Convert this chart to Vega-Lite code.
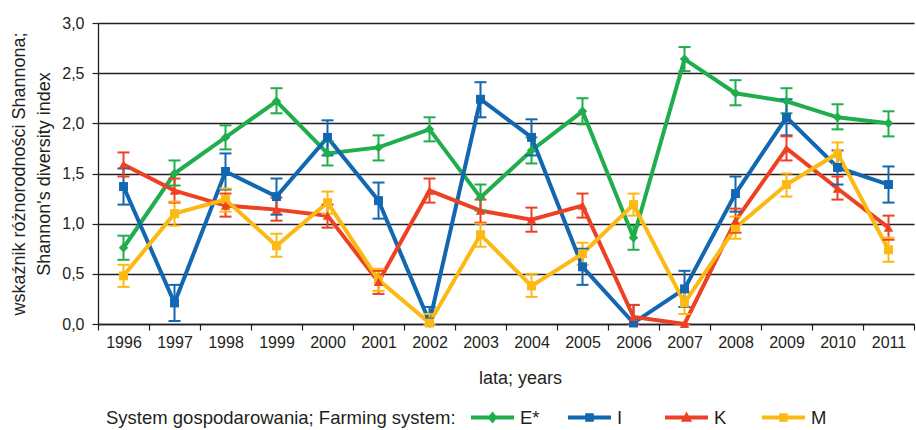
{
  "$schema": "https://vega.github.io/schema/vega-lite/v6.json",
  "width": 816,
  "height": 301,
  "autosize": {"type": "none"},
  "padding": {"left": 98, "top": 23, "right": 2, "bottom": 106},
  "background": "white",
  "config": {
    "font": "Liberation Sans",
    "view": {"stroke": null},
    "axis": {
      "labelFont": "Liberation Sans",
      "titleFont": "Liberation Sans",
      "labelFontSize": 16,
      "titleFontSize": 18,
      "titleFontWeight": "normal",
      "labelColor": "#231f20",
      "titleColor": "#231f20",
      "domainColor": "#231f20",
      "tickColor": "#231f20",
      "domainWidth": 1.3,
      "tickWidth": 1.2
    },
    "legend": {
      "labelFont": "Liberation Sans",
      "titleFont": "Liberation Sans"
    }
  },
  "data": {
    "values": [
      {"year": "1996", "system": "E*", "value": 0.76, "lo": 0.64, "hi": 0.88},
      {"year": "1997", "system": "E*", "value": 1.50, "lo": 1.38, "hi": 1.63},
      {"year": "1998", "system": "E*", "value": 1.86, "lo": 1.74, "hi": 1.98},
      {"year": "1999", "system": "E*", "value": 2.22, "lo": 2.10, "hi": 2.35},
      {"year": "2000", "system": "E*", "value": 1.70, "lo": 1.58, "hi": 1.82},
      {"year": "2001", "system": "E*", "value": 1.76, "lo": 1.63, "hi": 1.88},
      {"year": "2002", "system": "E*", "value": 1.94, "lo": 1.82, "hi": 2.06},
      {"year": "2003", "system": "E*", "value": 1.26, "lo": 1.13, "hi": 1.39},
      {"year": "2004", "system": "E*", "value": 1.73, "lo": 1.60, "hi": 1.86},
      {"year": "2005", "system": "E*", "value": 2.12, "lo": 1.99, "hi": 2.25},
      {"year": "2006", "system": "E*", "value": 0.86, "lo": 0.74, "hi": 0.98},
      {"year": "2007", "system": "E*", "value": 2.64, "lo": 2.52, "hi": 2.76},
      {"year": "2008", "system": "E*", "value": 2.30, "lo": 2.18, "hi": 2.43},
      {"year": "2009", "system": "E*", "value": 2.22, "lo": 2.10, "hi": 2.35},
      {"year": "2010", "system": "E*", "value": 2.06, "lo": 1.94, "hi": 2.19},
      {"year": "2011", "system": "E*", "value": 2.00, "lo": 1.87, "hi": 2.12},

      {"year": "1996", "system": "I", "value": 1.37, "lo": 1.19, "hi": 1.55},
      {"year": "1997", "system": "I", "value": 0.21, "lo": 0.03, "hi": 0.39},
      {"year": "1998", "system": "I", "value": 1.52, "lo": 1.34, "hi": 1.70},
      {"year": "1999", "system": "I", "value": 1.27, "lo": 1.09, "hi": 1.45},
      {"year": "2000", "system": "I", "value": 1.86, "lo": 1.68, "hi": 2.03},
      {"year": "2001", "system": "I", "value": 1.23, "lo": 1.05, "hi": 1.41},
      {"year": "2002", "system": "I", "value": 0.02, "lo": 0.00, "hi": 0.17},
      {"year": "2003", "system": "I", "value": 2.24, "lo": 2.06, "hi": 2.41},
      {"year": "2004", "system": "I", "value": 1.86, "lo": 1.68, "hi": 2.04},
      {"year": "2005", "system": "I", "value": 0.57, "lo": 0.39, "hi": 0.75},
      {"year": "2006", "system": "I", "value": 0.01, "lo": 0.00, "hi": 0.19},
      {"year": "2007", "system": "I", "value": 0.35, "lo": 0.17, "hi": 0.53},
      {"year": "2008", "system": "I", "value": 1.30, "lo": 1.12, "hi": 1.47},
      {"year": "2009", "system": "I", "value": 2.06, "lo": 1.88, "hi": 2.24},
      {"year": "2010", "system": "I", "value": 1.56, "lo": 1.39, "hi": 1.73},
      {"year": "2011", "system": "I", "value": 1.39, "lo": 1.21, "hi": 1.57},

      {"year": "1996", "system": "K", "value": 1.59, "lo": 1.47, "hi": 1.71},
      {"year": "1997", "system": "K", "value": 1.33, "lo": 1.21, "hi": 1.45},
      {"year": "1998", "system": "K", "value": 1.18, "lo": 1.07, "hi": 1.30},
      {"year": "1999", "system": "K", "value": 1.14, "lo": 1.03, "hi": 1.26},
      {"year": "2000", "system": "K", "value": 1.08, "lo": 0.96, "hi": 1.19},
      {"year": "2001", "system": "K", "value": 0.42, "lo": 0.30, "hi": 0.53},
      {"year": "2002", "system": "K", "value": 1.33, "lo": 1.21, "hi": 1.45},
      {"year": "2003", "system": "K", "value": 1.13, "lo": 1.01, "hi": 1.24},
      {"year": "2004", "system": "K", "value": 1.04, "lo": 0.92, "hi": 1.16},
      {"year": "2005", "system": "K", "value": 1.18, "lo": 1.06, "hi": 1.30},
      {"year": "2006", "system": "K", "value": 0.07, "lo": 0.00, "hi": 0.19},
      {"year": "2007", "system": "K", "value": 0.00, "lo": 0.00, "hi": 0.00},
      {"year": "2008", "system": "K", "value": 1.03, "lo": 0.91, "hi": 1.15},
      {"year": "2009", "system": "K", "value": 1.75, "lo": 1.63, "hi": 1.87},
      {"year": "2010", "system": "K", "value": 1.35, "lo": 1.24, "hi": 1.47},
      {"year": "2011", "system": "K", "value": 0.96, "lo": 0.84, "hi": 1.08},

      {"year": "1996", "system": "M", "value": 0.48, "lo": 0.37, "hi": 0.59},
      {"year": "1997", "system": "M", "value": 1.10, "lo": 0.98, "hi": 1.22},
      {"year": "1998", "system": "M", "value": 1.24, "lo": 1.12, "hi": 1.35},
      {"year": "1999", "system": "M", "value": 0.78, "lo": 0.67, "hi": 0.90},
      {"year": "2000", "system": "M", "value": 1.21, "lo": 1.10, "hi": 1.32},
      {"year": "2001", "system": "M", "value": 0.44, "lo": 0.33, "hi": 0.55},
      {"year": "2002", "system": "M", "value": 0.01, "lo": 0.00, "hi": 0.10},
      {"year": "2003", "system": "M", "value": 0.89, "lo": 0.77, "hi": 1.00},
      {"year": "2004", "system": "M", "value": 0.38, "lo": 0.27, "hi": 0.50},
      {"year": "2005", "system": "M", "value": 0.70, "lo": 0.59, "hi": 0.81},
      {"year": "2006", "system": "M", "value": 1.19, "lo": 1.08, "hi": 1.30},
      {"year": "2007", "system": "M", "value": 0.21, "lo": 0.10, "hi": 0.32},
      {"year": "2008", "system": "M", "value": 0.96, "lo": 0.85, "hi": 1.07},
      {"year": "2009", "system": "M", "value": 1.39, "lo": 1.27, "hi": 1.50},
      {"year": "2010", "system": "M", "value": 1.70, "lo": 1.59, "hi": 1.81},
      {"year": "2011", "system": "M", "value": 0.74, "lo": 0.62, "hi": 0.86}
    ]
  },
  "encoding": {
    "x": {
      "field": "year",
      "type": "ordinal",
      "bandPosition": 0.5,
      "scale": {"type": "band", "paddingInner": 0, "paddingOuter": 0},
      "axis": {
        "title": "lata; years",
        "titleX": 422,
        "titlePadding": 19,
        "labelAngle": 0,
        "labelPadding": 4,
        "tickBand": "extent",
        "tickSize": 6,
        "grid": false
      }
    },
    "color": {
      "field": "system",
      "type": "nominal",
      "scale": {
        "domain": ["E*", "I", "K", "M"],
        "range": ["#1fae4b", "#1167b1", "#ee4124", "#fdb913"]
      },
      "legend": {
        "title": "System gospodarowania; Farming system:",
        "orient": "bottom",
        "direction": "horizontal",
        "offset": 1,
        "padding": 8,
        "titleOrient": "left",
        "titleAnchor": "middle",
        "titleBaseline": "middle",
        "titleLimit": 600,
        "titleFontSize": 18.5,
        "titleFontWeight": "normal",
        "titleColor": "#231f20",
        "titlePadding": 15,
        "labelFontSize": 18.5,
        "labelColor": "#231f20",
        "labelOffset": 6,
        "gridAlign": "all",
        "columnPadding": 28,
        "symbolSize": 1849,
        "symbolStrokeWidth": 0,
        "symbolType": "M-1,-0.093L1,-0.093L1,0.093L-1,0.093Z",
        "encode": {
          "title": {
            "update": {"dy": {"value": 6}}
          },
          "symbols": {
            "update": {
              "shape": {
                "signal": "datum.value === 'E*' ? 'M-1,-0.093L1,-0.093L1,0.093L-1,0.093Z M0,-0.28L0.23,0L0,0.28L-0.23,0Z' : datum.value === 'K' ? 'M-1,-0.093L1,-0.093L1,0.093L-1,0.093Z M0,-0.28L0.26,0.2L-0.26,0.2Z' : 'M-1,-0.093L1,-0.093L1,0.093L-1,0.093Z M-0.2,-0.2L0.2,-0.2L0.2,0.2L-0.2,0.2Z'"
              },
              "fill": {"scale": "color", "field": "value"},
              "strokeWidth": {"value": 0},
              "opacity": {"value": 1}
            }
          }
        }
      }
    }
  },
  "layer": [
    {
      "mark": {"type": "line", "strokeWidth": 4, "strokeJoin": "miter"},
      "encoding": {
        "y": {
          "field": "value",
          "type": "quantitative",
          "scale": {"domain": [0, 3], "nice": false},
          "axis": {
            "values": [0, 0.5, 1, 1.5, 2, 2.5, 3],
            "format": ".1f",
            "labelExpr": "replace(datum.label, '.', ',')",
            "grid": true,
            "gridColor": "#231f20",
            "gridWidth": 1.3,
            "tickSize": 6,
            "labelPadding": 8,
            "title": ["wskaźnik różnorodności Shannona;", "Shannon's diversity index"],
            "titleLineHeight": 25,
            "titlePadding": 8
          }
        }
      }
    },
    {
      "mark": {"type": "rule", "strokeWidth": 2},
      "encoding": {
        "y": {"field": "lo", "type": "quantitative"},
        "y2": {"field": "hi"}
      }
    },
    {
      "mark": {"type": "tick", "orient": "horizontal", "size": 12, "thickness": 2, "opacity": 1},
      "encoding": {
        "y": {"field": "lo", "type": "quantitative"}
      }
    },
    {
      "mark": {"type": "tick", "orient": "horizontal", "size": 12, "thickness": 2, "opacity": 1},
      "encoding": {
        "y": {"field": "hi", "type": "quantitative"}
      }
    },
    {
      "transform": [{"filter": "datum.system === 'E*'"}],
      "mark": {"type": "point", "shape": "diamond", "filled": true, "opacity": 1, "size": 90},
      "encoding": {
        "y": {"field": "value", "type": "quantitative"}
      }
    },
    {
      "transform": [{"filter": "datum.system === 'I' || datum.system === 'M'"}],
      "mark": {"type": "point", "shape": "square", "filled": true, "opacity": 1, "size": 80},
      "encoding": {
        "y": {"field": "value", "type": "quantitative"}
      }
    },
    {
      "transform": [{"filter": "datum.system === 'K'"}],
      "mark": {"type": "point", "shape": "triangle-up", "filled": true, "opacity": 1, "size": 90},
      "encoding": {
        "y": {"field": "value", "type": "quantitative"}
      }
    }
  ]
}
